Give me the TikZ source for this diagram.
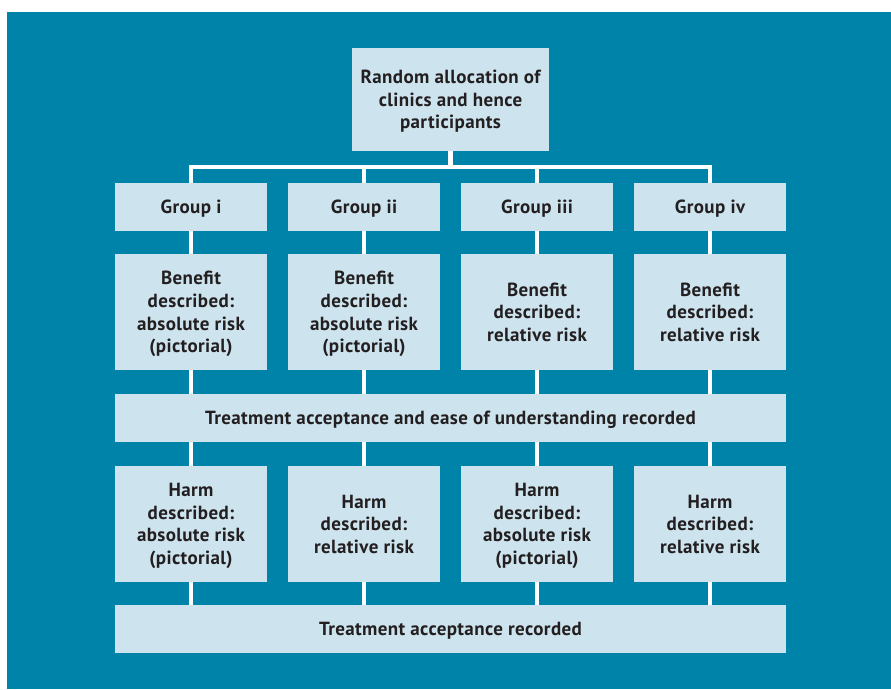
\documentclass[tikz,border=0pt]{standalone}
\usepackage{fontspec}
\setmainfont{PT Sans}[LetterSpace=2]
\colorlet{background}{white}
\definecolor{panelColor}{RGB}{0,131,168}
\definecolor{boxColor}{RGB}{205,228,239}
\definecolor{inkColor}{RGB}{35,31,32}
\tikzset{
  box/.style={fill=boxColor, text=inkColor, inner sep=0pt, align=center,
    text depth=0pt, font=\bfseries\fontsize{19}{22.6}\selectfont},
  groupbox/.style={box, minimum width=152pt, minimum height=48pt},
  descbox/.style={box, minimum width=152pt, minimum height=116pt},
  widebox/.style={box, minimum width=671pt, minimum height=48pt},
  link/.style={draw=white, line width=4.5pt}
}
\begin{document}
\begin{tikzpicture}[x=1pt, y=-1pt]
\useasboundingbox (0,0) rectangle (891,689);
\fill[panelColor] (7,12) rectangle (891,689);

\node[box, minimum width=197pt, minimum height=103pt] (alloc) at (450.5,99.5)
  {Random allocation of\\clinics and hence\\participants};
\coordinate (bus) at (450.5,167);

\node[groupbox] (gi) at (191,207) {Group i};
\node[groupbox] (gii) at (364,207) {Group ii};
\node[groupbox] (giii) at (537,207) {Group iii};
\node[groupbox] (giv) at (710,207) {Group iv};

\node[descbox] (bi) at (191,312) {Benefit\\described:\\absolute risk\\(pictorial)};
\node[descbox] (bii) at (364,312) {Benefit\\described:\\absolute risk\\(pictorial)};
\node[descbox] (biii) at (537,312) {Benefit\\described:\\relative risk};
\node[descbox] (biv) at (710,312) {Benefit\\described:\\relative risk};

\node[widebox] (ease) at (450.5,418)
  {Treatment acceptance and ease of understanding recorded};

\node[descbox] (hi) at (191,524) {Harm\\described:\\absolute risk\\(pictorial)};
\node[descbox] (hii) at (364,524) {Harm\\described:\\relative risk};
\node[descbox] (hiii) at (537,524) {Harm\\described:\\absolute risk\\(pictorial)};
\node[descbox] (hiv) at (710,524) {Harm\\described:\\relative risk};

\node[widebox] (accept) at (450.5,629) {Treatment acceptance recorded};

% white connectors
\draw[link] (alloc) -- (bus);
\draw[link] (gi) |- (bus) -| (giv);
\draw[link] (gii) -- (gii |- bus);
\draw[link] (giii) -- (giii |- bus);
\draw[link] (gi) -- (bi);
\draw[link] (gii) -- (bii);
\draw[link] (giii) -- (biii);
\draw[link] (giv) -- (biv);
\draw[link] (bi) -- (bi |- ease.north);
\draw[link] (bii) -- (bii |- ease.north);
\draw[link] (biii) -- (biii |- ease.north);
\draw[link] (biv) -- (biv |- ease.north);
\draw[link] (ease.south -| hi) -- (hi);
\draw[link] (ease.south -| hii) -- (hii);
\draw[link] (ease.south -| hiii) -- (hiii);
\draw[link] (ease.south -| hiv) -- (hiv);
\draw[link] (hi) -- (hi |- accept.north);
\draw[link] (hii) -- (hii |- accept.north);
\draw[link] (hiii) -- (hiii |- accept.north);
\draw[link] (hiv) -- (hiv |- accept.north);
\end{tikzpicture}
\end{document}
